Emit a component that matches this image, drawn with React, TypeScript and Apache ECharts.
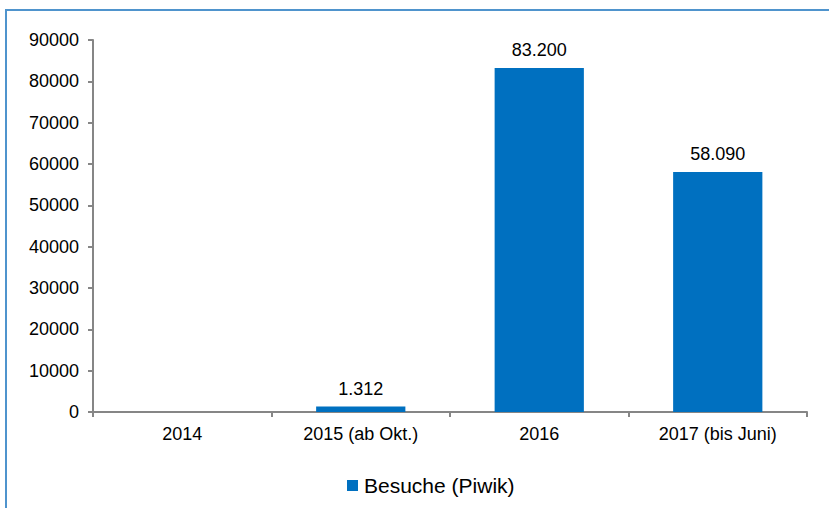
import React, { useEffect, useRef } from "react";
import * as echarts from "echarts";

const categories = ["2014", "2015 (ab Okt.)", "2016", "2017 (bis Juni)"];
const visits = [0, 1312, 83200, 58090];
const seriesName = "Besuche (Piwik)";

const fmt = (v: number) => {
  if (!v) return "";
  return String(v).replace(/\B(?=(\d{3})+(?!\d))/g, ".");
};

export default function App() {
  const ref = useRef<HTMLDivElement>(null);
  useEffect(() => {
    document.body.style.margin = "0";
    const chart = echarts.init(ref.current!, undefined, { renderer: "svg" });
    const font = "Liberation Sans, Arial, sans-serif";
    chart.setOption({
      animation: false,
      backgroundColor: "#ffffff",
      textStyle: { fontFamily: font },
      grid: { left: 93, right: 22, top: 40, bottom: 96, containLabel: false },
      legend: {
        left: 342,
        top: 470,
        icon: "rect",
        itemWidth: 11,
        itemHeight: 11,
        itemGap: 10,
        textStyle: { fontSize: 21, color: "#000", fontFamily: font, padding: [0, 0, 0, 1] },
        data: [seriesName],
      },
      xAxis: {
        type: "category",
        data: categories,
        axisLine: { lineStyle: { color: "#868686", width: 2 } },
        axisTick: { show: true, length: 5, lineStyle: { color: "#868686", width: 2 } },
        axisLabel: { color: "#000", fontSize: 18, margin: 13, fontFamily: font },
      },
      yAxis: {
        type: "value",
        min: 0,
        max: 90000,
        interval: 10000,
        splitLine: { show: false },
        axisLine: { show: true, lineStyle: { color: "#868686", width: 2 } },
        axisTick: { show: true, length: 5, lineStyle: { color: "#868686", width: 2 } },
        axisLabel: {
          color: "#000",
          fontSize: 18,
          margin: 14,
          fontFamily: font,
          formatter: (v: number) => String(v),
        },
      },
      series: [
        {
          name: seriesName,
          type: "bar",
          data: visits,
          barWidth: "50%",
          itemStyle: { color: "#0070C0" },
          label: {
            show: true,
            position: "top",
            distance: 9,
            color: "#000",
            fontSize: 18,
            fontFamily: font,
            formatter: (p: any) => fmt(p.value),
          },
        },
      ],
      graphic: [
        {
          type: "line",
          shape: { x1: 6, y1: 10, x2: 829, y2: 10 },
          style: { stroke: "#4F94CD", lineWidth: 2 },
          silent: true,
        },
        {
          type: "line",
          shape: { x1: 6, y1: 9, x2: 6, y2: 508 },
          style: { stroke: "#4F94CD", lineWidth: 2 },
          silent: true,
        },
      ],
    });
    return () => chart.dispose();
  }, []);
  return (
    <div
      ref={ref}
      style={{ position: "absolute", left: 0, top: 0, width: 829, height: 508 }}
    />
  );
}
